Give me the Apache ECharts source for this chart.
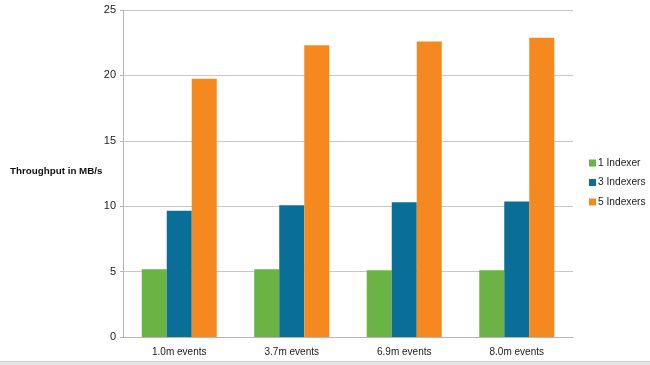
<!DOCTYPE html>
<html>
<head>
<meta charset="utf-8">
<script src="https://cdn.jsdelivr.net/npm/echarts@6/dist/echarts.min.js"></script>
<style>html,body{margin:0;padding:0;background:#fff;}#c{width:650px;height:365px;}</style>
</head>
<body>
<div id="c"></div>
<script>
var categories = ['1.0m events', '3.7m events', '6.9m events', '8.0m events'];
var seriesNames = ['1 Indexer', '3 Indexers', '5 Indexers'];
var oneIndexer = [5.18, 5.18, 5.1, 5.1];
var threeIndexers = [9.66, 10.07, 10.3, 10.35];
var fiveIndexers = [19.75, 22.3, 22.6, 22.88];
var yTicks = [0, 5, 10, 15, 20, 25];
var colors = ['#6ab344', '#0a6f98', '#f68820'];

var chart = echarts.init(document.getElementById('c'), null, {renderer: 'canvas'});
var font = '"Liberation Sans", Helvetica, Arial, sans-serif';
var vals = [oneIndexer, threeIndexers, fiveIndexers];
chart.setOption({
  animation: false,
  backgroundColor: '#ffffff',
  grid: {left: 123, right: 77, top: 10, bottom: 28, containLabel: false},
  legend: {
    orient: 'vertical',
    left: 584, top: 153,
    itemWidth: 7, itemHeight: 7, itemGap: 9.5,
    icon: 'rect',
    textStyle: {fontFamily: font, fontSize: 10.2, color: '#222', padding: [0, 0, 0, -3]},
    data: seriesNames
  },
  xAxis: {
    type: 'category',
    data: categories,
    axisLine: {lineStyle: {color: '#b5b5b5', width: 1}},
    axisTick: {show: false},
    axisLabel: {fontFamily: font, fontSize: 10, color: '#222', margin: 10}
  },
  yAxis: {
    type: 'value',
    min: yTicks[0], max: yTicks[yTicks.length - 1], interval: 5,
    axisLine: {show: true, lineStyle: {color: '#b5b5b5', width: 1}},
    axisTick: {show: true, length: 3, lineStyle: {color: '#b5b5b5'}},
    axisLabel: {fontFamily: font, fontSize: 11, color: '#222', margin: 7},
    splitLine: {lineStyle: {color: '#c8c8c8', width: 1}}
  },
  series: seriesNames.map(function (n, i) {
    return {
      name: n, type: 'bar', data: vals[i],
      barWidth: 25, barGap: '0%',
      itemStyle: {color: colors[i]}
    };
  }),
  graphic: [
    {type: 'text', left: 10, top: 166, style: {text: 'Throughput in MB/s', font: 'bold 9.8px ' + font, fill: '#111'}},
    {type: 'rect', shape: {x: 0, y: 362, width: 650, height: 3}, style: {fill: '#e6e6e6'}},
    {type: 'rect', shape: {x: 0, y: 361, width: 650, height: 1}, style: {fill: '#cfcfcf'}}
  ]
});
</script>
</body>
</html>
